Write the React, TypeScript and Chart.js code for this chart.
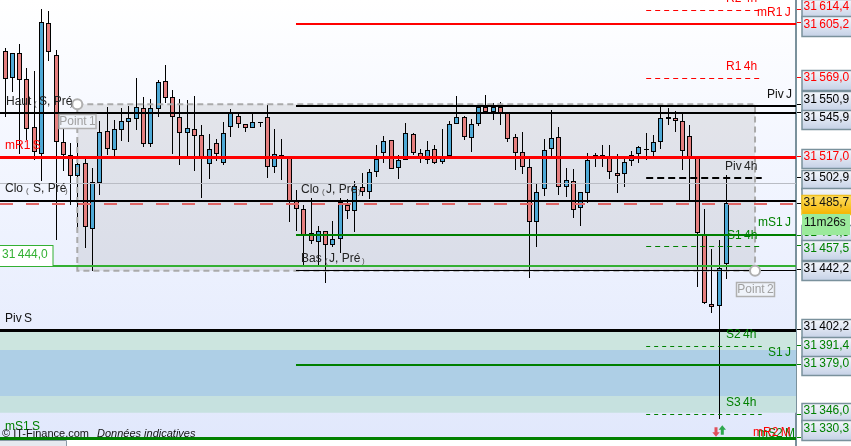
import React, { useEffect, useRef } from "react";
import { Chart, registerables } from "chart.js";

Chart.register(...registerables);

const HIGHS = [31588.8,31585.1,31591.3,31575.2,31573.4,31614.4,31613.1,31587.3,31535.6,31525.7,31525.7,31515.7,31508.9,31540.2,31549.3,31540.9,31548.7,31550.2,31568.5,31555.9,31554.6,31567.4,31577.3,31560.8,31554.6,31554.2,31556.8,31537.6,31531.6,31528.3,31539.8,31548.2,31545.5,31538.5,31545.3,31539.8,31550.8,31534.7,31528.1,31517.1,31494.5,31484.6,31489.0,31470.7,31467.6,31474.0,31489.2,31488.6,31500.5,31506.0,31508.3,31524.3,31530.3,31527.5,31517.7,31539.1,31532.1,31521.7,31527.0,31524.3,31534.7,31540.0,31557.0,31543.6,31541.4,31550.8,31557.5,31552.0,31552.6,31545.7,31531.6,31533.0,31515.5,31499.0,31528.3,31547.5,31536.1,31508.9,31508.3,31493.0,31519.2,31519.2,31524.3,31524.3,31518.4,31514.9,31520.4,31523.9,31532.5,31531.0,31550.4,31548.7,31546.9,31545.3,31537.6,31517.1,31481.8,31455.5,31461.4,31504.5];
const OPENS = [31586.8,31568.5,31585.1,31567.9,31536.5,31518.2,31605.0,31583.8,31526.1,31517.7,31504.0,31512.2,31468.9,31499.0,31533.4,31521.0,31534.1,31539.4,31541.4,31548.7,31524.8,31548.0,31566.5,31556.3,31542.7,31532.5,31534.7,31530.8,31512.0,31525.5,31512.6,31536.1,31543.4,31538.5,31535.4,31539.8,31542.7,31509.6,31517.9,31517.1,31487.9,31481.8,31465.9,31460.3,31467.6,31458.3,31461.9,31484.6,31480.4,31496.3,31493.4,31506.7,31518.8,31527.5,31509.3,31514.2,31531.4,31519.2,31514.2,31521.5,31513.3,31517.3,31538.1,31542.7,31529.2,31538.1,31549.7,31546.4,31549.7,31545.3,31529.4,31519.5,31510.0,31473.1,31495.0,31521.5,31529.4,31496.7,31500.3,31482.6,31492.7,31517.9,31517.9,31517.1,31506.0,31504.9,31513.7,31518.2,31521.9,31519.9,31526.1,31542.7,31542.0,31540.0,31530.1,31515.9,31464.7,31418.8,31417.5,31445.3];
const CLOSES = [31567.9,31585.1,31567.2,31534.7,31519.5,31605.6,31585.8,31526.5,31517.5,31504.0,31511.6,31469.8,31499.6,31532.8,31521.9,31534.7,31540.0,31542.0,31549.3,31524.8,31548.7,31565.9,31555.3,31542.7,31532.1,31535.4,31530.5,31516.4,31521.7,31518.4,31532.1,31545.3,31538.1,31535.4,31539.4,31539.2,31510.0,31518.2,31516.4,31486.8,31481.8,31464.7,31461.0,31467.6,31457.9,31461.9,31486.4,31480.8,31497.2,31493.4,31506.3,31515.1,31527.0,31508.6,31514.4,31532.1,31518.8,31514.9,31520.8,31512.2,31516.4,31538.1,31542.7,31529.8,31538.1,31549.7,31546.2,31549.7,31544.7,31528.5,31518.8,31510.0,31473.5,31493.4,31521.0,31528.8,31496.7,31501.0,31481.3,31493.0,31514.2,31514.9,31516.2,31506.3,31504.0,31512.9,31517.5,31522.8,31520.8,31526.1,31542.0,31541.4,31540.4,31520.2,31515.9,31465.9,31419.5,31417.2,31442.7,31485.7];
const LOWS = [31542.9,31559.7,31518.4,31527.7,31514.4,31500.7,31580.2,31461.4,31507.3,31484.6,31468.0,31456.3,31441.1,31491.2,31517.7,31517.1,31527.2,31526.5,31534.3,31523.0,31523.2,31543.1,31552.0,31518.4,31511.1,31517.1,31507.3,31489.4,31501.8,31513.9,31511.1,31529.8,31535.8,31533.2,31535.4,31536.5,31502.3,31506.0,31501.2,31473.5,31467.4,31444.9,31458.8,31444.2,31433.1,31457.0,31453.0,31475.3,31466.9,31490.6,31488.6,31503.4,31512.6,31508.6,31502.0,31514.2,31517.7,31512.2,31512.0,31511.6,31512.0,31517.3,31538.1,31527.7,31519.9,31537.1,31544.7,31540.9,31537.6,31526.5,31507.8,31505.1,31436.0,31457.0,31490.6,31515.9,31491.2,31490.1,31476.0,31470.7,31485.7,31509.6,31509.6,31502.0,31492.7,31496.7,31510.4,31512.6,31514.4,31517.1,31521.7,31537.6,31533.2,31507.8,31487.3,31430.1,31418.8,31413.3,31342.6,31435.6];

const X_MIN = -0.7;
const X_MAX = 108.565;
const Y_MAX = 31620.4;
const Y_MIN = 31328.93;
const DAY_START = 39.93;
const H4_START = 88;
const H4_END = 103.86;

const RED = "#ff0000";
const GREEN = "#008000";
const BLACK = "#000000";
const SOFT_GREEN = "#33b033";

const FULL_LINES: [number, string, number, number[]][] = [
  [31545.9, BLACK, 2, []],
  [31517.0, RED, 3, []],
  [31499.5, "#b9bcc4", 1, []],
  [31487.9, BLACK, 2, []],
  [31485.7, "#e06666", 2, [13, 13]],
  [31444.6, SOFT_GREEN, 2, []],
  [31402.2, BLACK, 3, []],
  [31330.3, GREEN, 3, []],
];
const DAY_LINES: [number, string, number, number[]][] = [
  [31605.2, RED, 2, []],
  [31550.9, BLACK, 2, []],
  [31465.4, GREEN, 2, []],
  [31442.2, BLACK, 1, []],
  [31379.0, GREEN, 2, []],
];
const H4_LINES: [number, string, number, number[]][] = [
  [31614.4, RED, 1, [5, 4]],
  [31569.0, RED, 1, [5, 4]],
  [31502.9, BLACK, 2, [7, 4]],
  [31457.5, GREEN, 1, [5, 4]],
  [31391.4, GREEN, 1, [4, 4]],
  [31346.6, GREEN, 1, [4, 4]],
];
const BANDS: [number, number, string][] = [
  [31400.7, 31388.6, "#cce5df"],
  [31388.6, 31358.1, "#aecfe6"],
  [31358.1, 31347.0, "#c6e1df"],
];
const POINT_1 = { x: 9.91, y: 31551.4 };
const POINT_2 = { x: 102.94, y: 31441.0 };

const AXIS_LABELS: [string, string, number, number][] = [
  ["31\u2009614,4", RED, 31614.4, -3],
  ["31\u2009605,2", RED, 31605.2, 1],
  ["31\u2009569,0", RED, 31569.0, 0],
  ["31\u2009550,9", BLACK, 31550.9, -6],
  ["31\u2009545,9", BLACK, 31545.9, 5],
  ["31\u2009517,0", RED, 31517.0, 0],
  ["31\u2009502,9", BLACK, 31502.9, 0],
  ["31\u2009464,5", GREEN, 31464.5, -3],
  ["31\u2009457,5", GREEN, 31457.5, 2],
  ["31\u2009442,2", BLACK, 31442.2, -1],
  ["31\u2009402,2", BLACK, 31402.2, -3],
  ["31\u2009391,4", GREEN, 31391.4, -1],
  ["31\u2009379,0", GREEN, 31379.0, -1],
  ["31\u2009346,0", GREEN, 31346.0, -4],
  ["31\u2009330,3", GREEN, 31330.3, -10],
];
const LAST_PRICE = "31\u2009485,7";
const LAST_VALUE = 31485.7;
const TIMER = "11m26s";

const TEXTS: [string, string, number, number][] = [
  ["R2\u20094h", RED, 726, -1],
  ["mR1\u2009J", RED, 757, 13],
  ["R1\u20094h", RED, 726, 67],
  ["Piv\u2009J", "#111", 767, 95],
  ["Piv\u20094h", "#222", 725, 167],
  ["mS1\u2009J", GREEN, 758, 223],
  ["S1\u20094h", GREEN, 727, 236],
  ["S2\u20094h", GREEN, 726, 335],
  ["S1\u2009J", GREEN, 768, 353],
  ["S3\u20094h", GREEN, 726, 403],
  ["Piv\u2009S", "#111", 5, 319],
  ["mR1\u2009S", RED, 5, 146],
];
const BOTTOM_TEXTS: [string, string, number, number][] = [
  ["mS1\u2009S", GREEN, 5, 427],
  ["mS2\u2009M", GREEN, 758, 434],
  ["mR2\u2009M", RED, 753, 433],
];
const BRACKETED: [string, number, number, string, number, number, number][] = [
  ["Haut", 6, 34, "S, Pré", 39, 70, 102],
  ["Clo", 5, 26, "S, Pré", 33, 65, 189],
  ["Clo", 301, 322, "J, Pré", 326, 358, 190],
  ["Bas", 301, 325, "J, Pré", 329, 362, 259],
];

const FONT = '12px "Liberation Sans"';

function lineSet(y: number, from: number, to: number, color: string, width: number, dash: number[], order: number) {
  return {
    type: "line",
    data: [{ x: from, y }, { x: to, y }],
    borderColor: color,
    borderWidth: width,
    borderDash: dash,
    pointRadius: 0,
    fill: false,
    order,
    tension: 0,
  };
}

function boxAt(ctx: any, top: number, bottom: number, a: string, b: string, edge = "#7a919c") {
  const g = ctx.createLinearGradient(0, top, 0, bottom);
  g.addColorStop(0, a);
  g.addColorStop(1, b);
  ctx.fillStyle = g;
  ctx.fillRect(802, top, 52, bottom - top);
  ctx.strokeStyle = edge;
  ctx.lineWidth = 1.5;
  ctx.setLineDash([]);
  ctx.strokeRect(802, top, 52, bottom - top);
}

const paint = {
  id: "paint",
  beforeDraw(chart: any) {
    const { ctx, width, height, chartArea } = chart;
    ctx.save();
    ctx.fillStyle = "#ffffff";
    ctx.fillRect(0, 0, width, height);
    const g = ctx.createLinearGradient(0, 0, 0, chartArea.bottom);
    g.addColorStop(0, "#ffffff");
    g.addColorStop(0.35, "#f3f6ff");
    g.addColorStop(1, "#e1e8fc");
    ctx.fillStyle = g;
    ctx.fillRect(0, 0, chartArea.right, chartArea.bottom);
    ctx.fillStyle = "#e6e9ef";
    ctx.fillRect(0, 440, 66, 6);
    ctx.strokeStyle = "#8a9aa6";
    ctx.lineWidth = 1;
    ctx.beginPath();
    ctx.moveTo(0, 440.5);
    ctx.lineTo(66.5, 440.5);
    ctx.lineTo(66.5, 446);
    ctx.stroke();
    ctx.strokeStyle = "#7a919c";
    ctx.lineWidth = 2;
    ctx.beginPath();
    ctx.moveTo(chartArea.right, 440);
    ctx.lineTo(chartArea.right, 446);
    ctx.stroke();
    ctx.restore();
  },
  beforeDatasetsDraw(chart: any) {
    const { ctx } = chart;
    chart.getSortedVisibleDatasetMetas().forEach((meta: any) => {
      const ds = chart.data.datasets[meta.index];
      if (meta.type === "bar") {
        meta.data.forEach((el: any) => {
          el.x = Math.floor(el.x) + 0.5;
          el.y = Math.round(el.y);
          el.base = Math.round(el.base);
          if (el.base === el.y) el.base += 1;
        });
      } else if (ds.snap !== false) {
        const odd = (ds.borderWidth || 0) % 2 === 1;
        meta.data.forEach((el: any) => {
          const base = scalesY(chart, ds, el);
          el.y = (odd ? Math.floor(base) + 0.5 : Math.round(base - 0.01)) + 1;
        });
      }
    });
    ctx.save();
    ctx.textBaseline = "middle";
    ctx.font = FONT;
    BOTTOM_TEXTS.forEach(([t, c, x, y]) => {
      ctx.fillStyle = c;
      ctx.fillText(t, x, y);
    });
    ctx.fillStyle = "#111";
    ctx.font = '11px "Liberation Sans"';
    ctx.fillText("© IT-Finance.com", 2, 434);
    ctx.font = 'italic 11px "Liberation Sans"';
    ctx.fillText("Données indicatives", 97, 434);
    ctx.restore();
  },
  afterDatasetsDraw(chart: any) {
    const { ctx, scales } = chart;
    const py = (v: number) => scales.y.getPixelForValue(v);
    ctx.save();
    ctx.textBaseline = "middle";
    ctx.font = FONT;
    TEXTS.forEach(([t, c, x, y]) => {
      ctx.fillStyle = c;
      ctx.fillText(t, x, y);
    });
    BRACKETED.forEach(([w, wx, ox, inner, ix, cx, y]) => {
      ctx.font = FONT;
      ctx.fillStyle = "#222";
      ctx.fillText(w, wx, y);
      ctx.fillText(inner, ix, y);
      ctx.font = '8px "Liberation Sans"';
      ctx.fillStyle = "#555";
      ctx.fillText("(", ox, y + 2);
      ctx.fillText(")", cx, y + 2);
    });
    ctx.fillStyle = "#ffffff";
    ctx.fillRect(0, 245.5, 53, 21);
    ctx.strokeStyle = SOFT_GREEN;
    ctx.lineWidth = 1;
    ctx.strokeRect(-1, 245.5, 54, 21);
    ctx.fillStyle = SOFT_GREEN;
    ctx.font = FONT;
    ctx.fillText("31\u2009444,0", 2, 255);
    const cap = (t: string, l: number, top: number, w: number) => {
      ctx.fillStyle = "rgba(240,243,250,0.9)";
      ctx.fillRect(l, top, w, 14);
      ctx.strokeStyle = "#b0b0b0";
      ctx.lineWidth = 1.5;
      ctx.strokeRect(l, top, w, 14);
      ctx.fillStyle = "#a0a0a0";
      ctx.font = FONT;
      ctx.textAlign = "center";
      ctx.fillText(t, l + w / 2, top + 7.5);
      ctx.textAlign = "left";
    };
    cap("Point\u20091", 59, 114.5, 37);
    cap("Point\u20092", 736.5, 282.5, 38);
    const arrow = (x: number, tip: number, dir: number, color: string) => {
      ctx.fillStyle = color;
      ctx.beginPath();
      ctx.moveTo(x, tip);
      ctx.lineTo(x + 3.7, tip + dir * 4.5);
      ctx.lineTo(x + 1.5, tip + dir * 4.5);
      ctx.lineTo(x + 1.5, tip + dir * 9.5);
      ctx.lineTo(x - 1.5, tip + dir * 9.5);
      ctx.lineTo(x - 1.5, tip + dir * 4.5);
      ctx.lineTo(x - 3.7, tip + dir * 4.5);
      ctx.closePath();
      ctx.fill();
    };
    arrow(716, 436.7, -1, "#e0505a");
    arrow(722.3, 425.3, 1, "#2ea84f");
    ctx.textBaseline = "middle";
    AXIS_LABELS.forEach(([t, c, v, dy]) => {
      const mid = py(v) + dy;
      boxAt(ctx, Math.round(mid - 7.5) + 0.5, Math.round(mid + 12) + 0.5, "#f5f7fc", "#c5d1e6");
      ctx.fillStyle = c;
      ctx.font = FONT;
      ctx.fillText(t, 803.5, mid + 0.5);
    });
    const lastMid = py(LAST_VALUE) - 0.5;
    boxAt(ctx, 188.5, 208.5, "#f5f7fc", "#c5d1e6");
    boxAt(ctx, 195.5, 214.5, "#ffdf63", "#f4b400", "#f0c020");
    ctx.fillStyle = "#111";
    ctx.fillText(LAST_PRICE, 803.5, lastMid);
    ctx.fillStyle = "#9bea9b";
    ctx.fillRect(802, 214, 48, 21);
    ctx.fillStyle = "#111";
    ctx.fillText(TIMER, 804, 223);
    ctx.fillStyle = "#222";
    ctx.fillText("R2\u2009S", 17, 453);
    ctx.fillText("31\u20093", 805, 453);
    ctx.restore();
  },
};

// The pixel of a level line, read afresh from the y scale so the nudge above is not applied twice.
function scalesY(chart: any, ds: any, el: any) {
  const i = (chart.getDatasetMeta(chart.data.datasets.indexOf(ds)).data as any[]).indexOf(el);
  return chart.scales.y.getPixelForValue(ds.data[i].y);
}

export default function App() {
  const ref = useRef<HTMLCanvasElement | null>(null);
  useEffect(() => {
    if (!ref.current) return;
    const idx = HIGHS.map((_, i) => i);
    const wicks = idx.map((i) => ({ x: i, y: [LOWS[i], HIGHS[i]] }));
    const bodies = idx.map((i) => ({ x: i, y: [OPENS[i], CLOSES[i]] }));
    const bodyColors = idx.map((i) => (CLOSES[i] > OPENS[i] ? "#4ea9d6" : "#e57f7f"));
    const datasets: any[] = [
      ...BANDS.map(([top, bottom, color]) => ({
        type: "line",
        data: [{ x: X_MIN, y: top }, { x: X_MAX, y: top }],
        borderWidth: 0,
        borderColor: "transparent",
        pointRadius: 0,
        backgroundColor: color,
        fill: { value: bottom },
        order: 100,
        snap: false,
      })),
      {
        type: "line",
        data: [{ x: POINT_1.x, y: POINT_1.y }, { x: POINT_2.x, y: POINT_1.y }],
        borderWidth: 0,
        borderColor: "transparent",
        pointRadius: 0,
        backgroundColor: "rgba(150,150,150,0.2)",
        fill: { value: POINT_2.y },
        order: 90,
        snap: false,
      },
      {
        type: "bar",
        data: wicks,
        backgroundColor: BLACK,
        borderWidth: 0,
        barThickness: 1,
        grouped: false,
        inflateAmount: 0,
        order: 50,
      },
      {
        type: "bar",
        data: bodies,
        backgroundColor: bodyColors,
        borderColor: BLACK,
        borderWidth: 1,
        borderSkipped: false,
        barThickness: 5,
        grouped: false,
        inflateAmount: 0,
        order: 40,
      },
      {
        type: "line",
        data: [
          { x: POINT_1.x, y: POINT_1.y },
          { x: POINT_2.x, y: POINT_1.y },
          { x: POINT_2.x, y: POINT_2.y },
          { x: POINT_1.x, y: POINT_2.y },
          { x: POINT_1.x, y: POINT_1.y },
        ],
        borderColor: "#aaaaaa",
        borderWidth: 2,
        borderDash: [6, 4],
        pointRadius: 0,
        fill: false,
        order: 30,
        snap: false,
      },
      ...FULL_LINES.map(([y, c, w, d]) => lineSet(y, X_MIN, X_MAX, c, w, d, 10)),
      ...DAY_LINES.map(([y, c, w, d]) => lineSet(y, DAY_START, X_MAX, c, w, d, 10)),
      ...H4_LINES.map(([y, c, w, d]) => lineSet(y, H4_START, H4_END, c, w, d, 10)),
      {
        type: "line",
        data: [POINT_1, POINT_2],
        showLine: false,
        pointRadius: 5,
        pointBackgroundColor: "#ffffff",
        pointBorderColor: "#b0b0b0",
        pointBorderWidth: 2,
        order: 1,
        snap: false,
      },
    ];
    const tickColors: Record<string, string> = {};
    AXIS_LABELS.forEach(([, c, v]) => (tickColors[v.toFixed(1)] = c));
    const chart = new Chart(ref.current, {
      type: "bar",
      data: { datasets },
      plugins: [paint],
      options: {
        responsive: false,
        animation: false,
        layout: { autoPadding: false, padding: { left: 0, top: 0, right: 0, bottom: 6 } },
        plugins: { legend: { display: false }, tooltip: { enabled: false } },
        events: [],
        scales: {
          x: { type: "linear", display: false, min: X_MIN, max: X_MAX, offset: false },
          y: {
            type: "linear",
            position: "right",
            min: Y_MIN,
            max: Y_MAX,
            afterBuildTicks: (s: any) => {
              s.ticks = [...AXIS_LABELS.map((a) => a[2]), LAST_VALUE].map((value) => ({ value }));
            },
            afterFit: (s: any) => {
              s.width = 55;
              s.paddingTop = 0;
              s.paddingBottom = 0;
            },
            ticks: { display: false, autoSkip: false },
            border: { display: true, color: "#7a919c", width: 2 },
            grid: {
              drawOnChartArea: false,
              drawTicks: true,
              tickLength: 5,
              tickWidth: 1,
              tickColor: (c: any) => (c.tick ? tickColors[c.tick.value.toFixed(1)] || BLACK : BLACK),
            },
          },
        },
      } as any,
    } as any);
    return () => chart.destroy();
  }, []);
  return (
    <div style={{ position: "fixed", left: 0, top: 0, width: 851, height: 446 }}>
      <canvas ref={ref} width={851} height={446} style={{ display: "block" }} />
    </div>
  );
}
